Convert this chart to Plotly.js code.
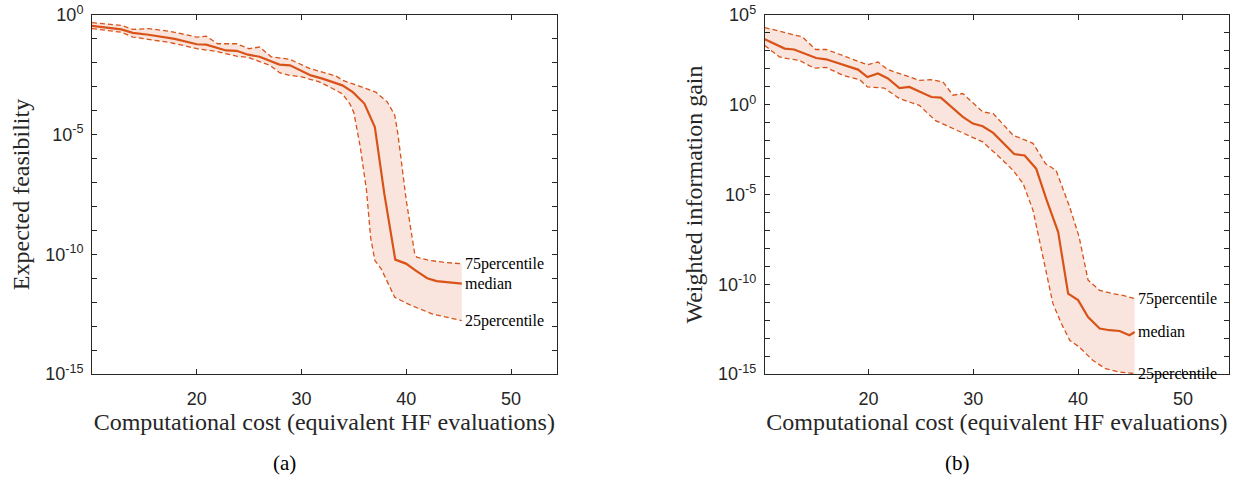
<!DOCTYPE html>
<html>
<head>
<meta charset="utf-8">
<script src="https://cdn.plot.ly/plotly-3.0.1.min.js"></script>
<style>html,body{margin:0;padding:0;background:#fff;}#chart{width:1252px;height:480px;}</style>
</head>
<body>
<div id="chart"></div>
<script>
// ---- Panel (a): Expected feasibility ----
const aMedianX = [10.0,12.8,13.9,15.4,17.9,19.0,20.0,20.9,21.9,22.8,23.8,24.9,26.0,27.9,28.9,30.0,30.9,32.0,33.9,34.9,36.0,37.0,37.9,38.95,39.97,40.98,42.0,42.9,44.0,45.3];
const aMedianY = [3.5e-1,2.5e-1,1.8e-1,1.5e-1,1.0e-1,7.9e-2,6.0e-2,5.8e-2,4.4e-2,3.3e-2,3.2e-2,2.2e-2,1.8e-2,8.5e-3,7.9e-3,4.5e-3,3.0e-3,2.2e-3,1.15e-3,6.0e-4,2.0e-4,2.1e-5,3.5e-8,6.0e-11,4.1e-11,2.0e-11,1.0e-11,7.6e-12,6.6e-12,6.0e-12];
const aUpperX = [10.0,12.8,13.9,15.4,17.4,20.0,20.9,22.0,23.8,25.0,26.0,27.1,28.9,29.8,30.8,31.4,33.3,33.9,36.1,37.1,38.2,38.9,39.2,40.0,40.8,41.0,42.2,43.5,45.3];
const aUpperY = [4.8e-1,3.7e-1,2.5e-1,2.7e-1,2.1e-1,1.2e-1,1.3e-1,6.3e-2,6.3e-2,3.9e-2,4.6e-2,1.8e-2,1.4e-2,9.3e-3,5.8e-3,4.9e-3,2.8e-3,1.9e-3,8.3e-4,6.0e-4,2.3e-4,6.5e-5,1.1e-5,1.8e-8,1.1e-10,7.6e-11,5.6e-11,4.7e-11,4.0e-11];
const aLowerX = [10.0,12.8,13.9,15.4,17.4,19.0,20.0,21.9,23.8,24.9,27.0,27.9,28.9,30.0,31.7,33.0,33.9,34.6,35.0,35.6,36.2,36.6,37.0,37.6,38.9,40.3,41.9,42.5,45.3];
const aLowerY = [2.7e-1,1.9e-1,1.2e-1,9.5e-2,7.1e-2,5.0e-2,3.9e-2,3.0e-2,1.9e-2,1.7e-2,7.9e-3,3.9e-3,3.0e-3,2.6e-3,1.6e-3,8.3e-4,5.1e-4,2.0e-4,8.3e-5,3.2e-6,5.0e-8,5.0e-10,5.6e-11,2.5e-11,1.6e-12,7.9e-13,4.0e-13,3.2e-13,1.7e-13];

// ---- Panel (b): Weighted information gain ----
const bMedianX = [10.1,12.0,12.9,15.0,15.96,17.9,19.0,19.9,20.9,21.85,22.95,23.9,26.0,26.9,29.0,29.96,30.9,31.9,32.8,33.9,34.9,36.0,37.0,38.1,39.05,40.0,40.95,42.06,43.0,43.96,44.9,45.4];
const bMedianY = [4.5e3,1.35e3,1.2e3,4.0e2,3.4e2,1.45e2,91,35,55,29,8.5,9.8,2.7,2.5,0.21,0.089,0.063,0.027,8.3e-3,1.8e-3,1.5e-3,2.75e-4,4.8e-6,8.1e-8,3.0e-11,1.3e-11,1.5e-12,3.4e-13,2.75e-13,2.5e-13,1.45e-13,2.2e-13];
const bUpperX = [10.1,11.8,13.7,14.95,15.96,17.9,19.9,20.9,21.85,24.85,26.0,27.1,28.06,29.0,30.9,31.9,33.8,35.7,36.9,37.9,39.2,40.1,40.95,42.06,43.3,44.3,45.4];
const bUpperY = [2.0e4,1.1e4,6.0e3,1.2e3,1.2e3,4.6e2,1.7e2,2.4e2,91,23,25,19,3.4,4.2,0.40,0.32,0.020,7.1e-3,5.2e-4,2.2e-4,2.0e-6,4.3e-8,1.7e-10,4.6e-11,3.0e-11,2.4e-11,1.6e-11];
const bLowerX = [10.1,11.5,12.3,13.4,14.8,15.96,17.55,19.15,19.9,21.5,22.95,24.85,26.4,27.6,29.2,30.9,32.5,33.8,34.75,35.7,36.65,37.6,38.4,39.2,40.1,41.4,42.6,43.9,45.4];
const bLowerY = [2.0e3,4.6e2,3.7e2,3.0e2,1.1e2,1.2e2,44,25,9.8,8.5,2.2,0.93,0.13,0.063,0.025,8.5e-3,1.2e-3,2.2e-4,4.1e-5,1.3e-6,3.3e-9,8.3e-12,6.5e-13,7.6e-14,3.2e-14,5.8e-15,2.0e-15,1.3e-15,1.05e-15];

const xTickVals = [20, 30, 40, 50];
const aLabelDecades = [0, -5, -10, -15];
const bLabelDecades = [5, 0, -5, -10, -15];
const labels = ['75percentile', 'median', '25percentile'];
const xTitle = 'Computational cost (equivalent HF evaluations)';
const aYTitle = 'Expected feasibility';
const bYTitle = 'Weighted information gain';

const lineColor = '#D95319';
const fillColor = 'rgba(217,83,25,0.15)';
const axisColor = '#262626';

function bandTraces(mx, my, ux, uy, lx, ly, xa, ya) {
  const polyX = ux.concat(lx.slice().reverse());
  const polyY = uy.concat(ly.slice().reverse());
  return [
    {x: polyX, y: polyY, xaxis: xa, yaxis: ya, type: 'scatter', mode: 'lines', fill: 'toself',
     fillcolor: fillColor, line: {width: 0}, hoverinfo: 'skip', showlegend: false},
    {x: ux, y: uy, xaxis: xa, yaxis: ya, type: 'scatter', mode: 'lines',
     line: {color: lineColor, width: 1.3, dash: '5px,3px'}, showlegend: false},
    {x: lx, y: ly, xaxis: xa, yaxis: ya, type: 'scatter', mode: 'lines',
     line: {color: lineColor, width: 1.3, dash: '5px,3px'}, showlegend: false},
    {x: mx, y: my, xaxis: xa, yaxis: ya, type: 'scatter', mode: 'lines',
     line: {color: lineColor, width: 2.2}, showlegend: false}
  ];
}

const data = [].concat(
  bandTraces(aMedianX, aMedianY, aUpperX, aUpperY, aLowerX, aLowerY, 'x', 'y'),
  bandTraces(bMedianX, bMedianY, bUpperX, bUpperY, bLowerX, bLowerY, 'x2', 'y2')
);

function decadeTicks(decs) {
  return {
    tickvals: decs.map(d => Math.pow(10, d)),
    ticktext: decs.map(d => '10<sup>' + d + '</sup>')
  };
}
const aT = decadeTicks(aLabelDecades);
const bT = decadeTicks(bLabelDecades);

const SANS = '"Liberation Sans", Arial, sans-serif';
const SERIF = '"Liberation Serif", "Times New Roman", serif';
const tickFont = {family: SANS, size: 18, color: axisColor};
const titleFont = {family: SERIF, size: 24, color: axisColor};

function xAxis(domain, range, anchor) {
  return {
    domain: domain, range: range, anchor: anchor,
    tickmode: 'array', tickvals: xTickVals, ticktext: xTickVals.map(String),
    ticks: 'inside', ticklen: 5, tickwidth: 1, tickcolor: axisColor,
    showline: true, linecolor: axisColor, linewidth: 1, mirror: 'ticks',
    showgrid: false, zeroline: false, tickfont: tickFont, ticklabelstandoff: 8,
    title: {text: xTitle, font: titleFont, standoff: 4}
  };
}
function yAxis(domain, range, anchor, t, title) {
  return {
    domain: domain, range: range, anchor: anchor, type: 'log',
    tickmode: 'array', tickvals: t.tickvals, ticktext: t.ticktext,
    ticks: 'inside', ticklen: 5, tickwidth: 1, tickcolor: axisColor,
    minor: {ticks: 'inside', dtick: 1, ticklen: 5, tickwidth: 1, tickcolor: axisColor, showgrid: false},
    showline: true, linecolor: axisColor, linewidth: 1, mirror: 'ticks',
    showgrid: false, zeroline: false, tickfont: tickFont, ticklabelstandoff: 4,
    title: {text: title, font: titleFont, standoff: 8}
  };
}

const annFont = {family: SERIF, size: 16, color: '#000'};
function endLabels(mx, my, ux, uy, lx, ly, xr, yr) {
  const pts = [[ux, uy], [mx, my], [lx, ly]];
  return pts.map((p, i) => ({
    x: p[0][p[0].length - 1], y: Math.log10(p[1][p[1].length - 1]),
    xref: xr, yref: yr, text: labels[i], showarrow: false,
    xanchor: 'left', yanchor: 'middle', xshift: 1, font: annFont
  }));
}

const capFont = {family: SERIF, size: 21, color: '#000'};
const annotations = [].concat(
  endLabels(aMedianX, aMedianY, aUpperX, aUpperY, aLowerX, aLowerY, 'x', 'y'),
  endLabels(bMedianX, bMedianY, bUpperX, bUpperY, bLowerX, bLowerY, 'x2', 'y2'),
  [
    {x: 0.1697, y: -0.248, xref: 'paper', yref: 'paper', text: '(a)', showarrow: false,
     xanchor: 'center', yanchor: 'middle', font: capFont},
    {x: 0.7615, y: -0.248, xref: 'paper', yref: 'paper', text: '(b)', showarrow: false,
     xanchor: 'center', yanchor: 'middle', font: capFont}
  ]
);

const layout = {
  width: 1252, height: 480,
  margin: {l: 92, r: 22.7, t: 14.7, b: 106},
  paper_bgcolor: '#fff', plot_bgcolor: '#fff',
  showlegend: false,
  xaxis: xAxis([0, 0.4086], [10, 54.35], 'y'),
  yaxis: yAxis([0, 1], [-15, 0], 'x', aT, aYTitle),
  xaxis2: xAxis([0.5917, 1], [10.1, 54.4], 'y2'),
  yaxis2: yAxis([0, 1], [-15, 5], 'x2', bT, bYTitle),
  annotations: annotations
};

Plotly.newPlot('chart', data, layout, {staticPlot: true, displayModeBar: false});
</script>
</body>
</html>
